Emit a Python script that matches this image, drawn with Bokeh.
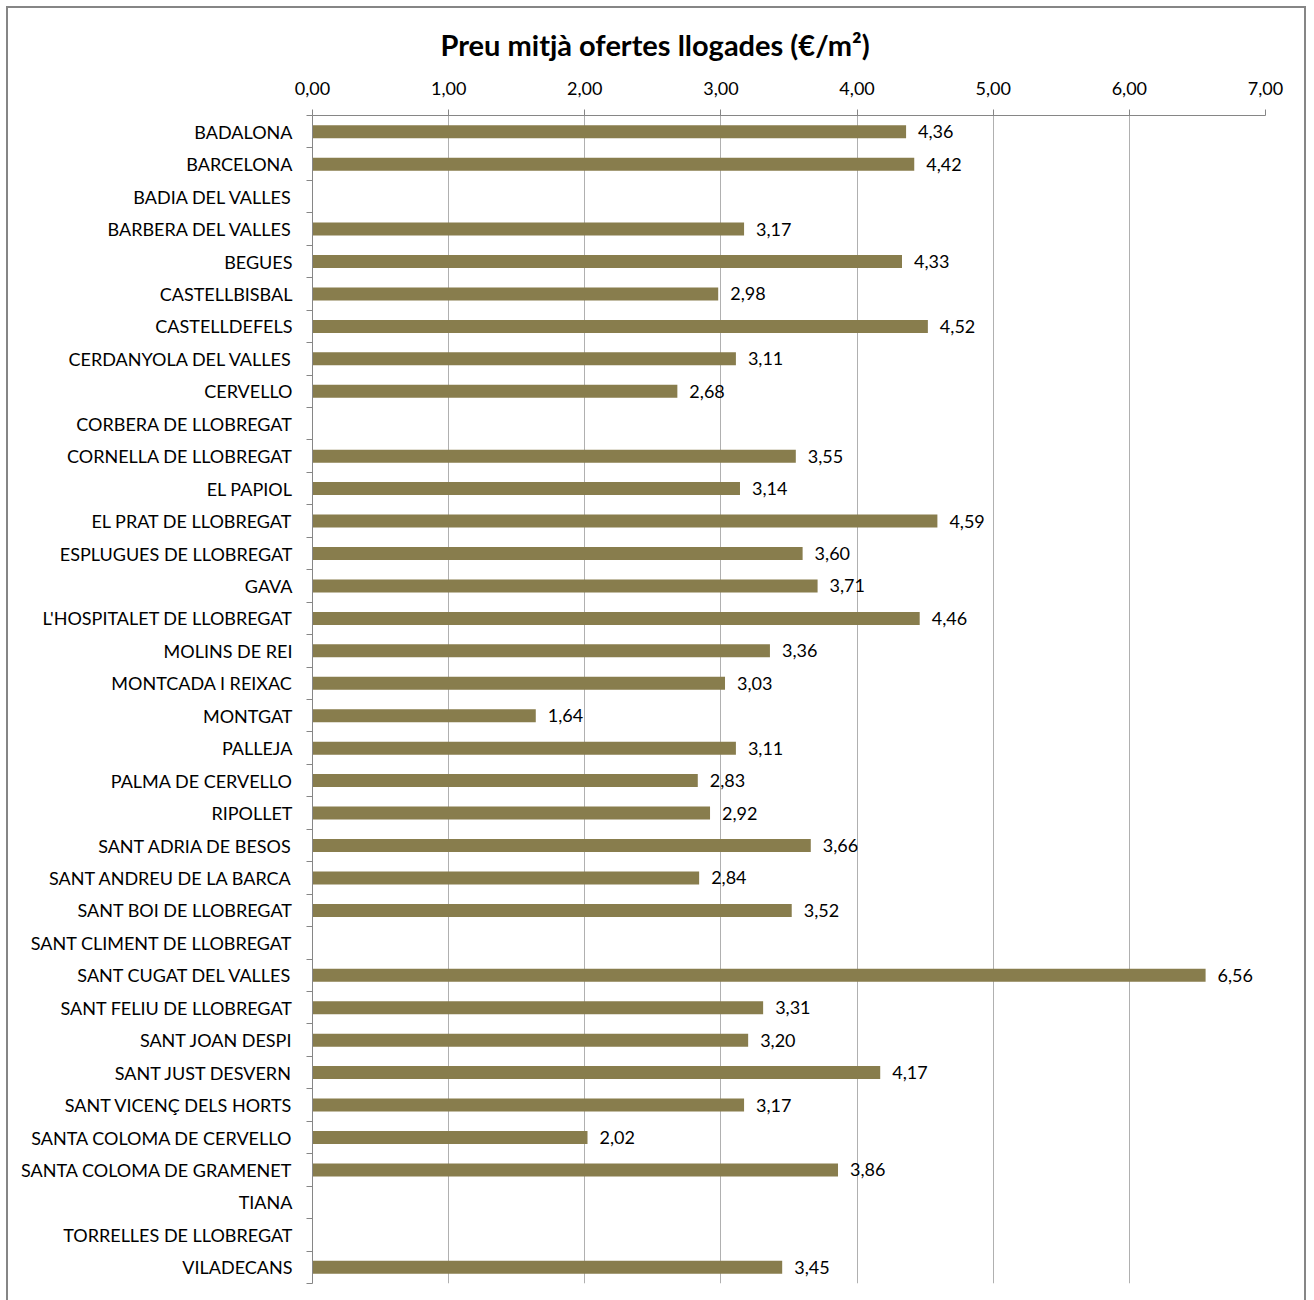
from bokeh.plotting import figure
from bokeh.models import Range1d, FixedTicker, LinearAxis, ColumnDataSource, Grid
from bokeh.core.properties import value
from bokeh.embed import file_html
from bokeh.resources import INLINE

municipis = ["BADALONA", "BARCELONA", "BADIA DEL VALLES", "BARBERA DEL VALLES", "BEGUES",
             "CASTELLBISBAL", "CASTELLDEFELS", "CERDANYOLA DEL VALLES", "CERVELLO",
             "CORBERA DE LLOBREGAT", "CORNELLA DE LLOBREGAT", "EL PAPIOL", "EL PRAT DE LLOBREGAT",
             "ESPLUGUES DE LLOBREGAT", "GAVA", "L'HOSPITALET DE LLOBREGAT", "MOLINS DE REI",
             "MONTCADA I REIXAC", "MONTGAT", "PALLEJA", "PALMA DE CERVELLO", "RIPOLLET",
             "SANT ADRIA DE BESOS", "SANT ANDREU DE LA BARCA", "SANT BOI DE LLOBREGAT",
             "SANT CLIMENT DE LLOBREGAT", "SANT CUGAT DEL VALLES", "SANT FELIU DE LLOBREGAT",
             "SANT JOAN DESPI", "SANT JUST DESVERN", "SANT VICENÇ DELS HORTS",
             "SANTA COLOMA DE CERVELLO", "SANTA COLOMA DE GRAMENET", "TIANA",
             "TORRELLES DE LLOBREGAT", "VILADECANS"]
preus = [4.36, 4.42, None, 3.17, 4.33, 2.98, 4.52, 3.11, 2.68, None, 3.55, 3.14, 4.59,
         3.60, 3.71, 4.46, 3.36, 3.03, 1.64, 3.11, 2.83, 2.92, 3.66, 2.84, 3.52, None,
         6.56, 3.31, 3.20, 4.17, 3.17, 2.02, 3.86, None, None, 3.45]
x_ticks = [0, 1, 2, 3, 4, 5, 6, 7]
x_tick_labels = ["0,00", "1,00", "2,00", "3,00", "4,00", "5,00", "6,00", "7,00"]

FONT = "Lato"
n = len(municipis)
idx = [i for i, v in enumerate(preus) if v is not None]
src = ColumnDataSource(dict(
    y=idx,
    v=[preus[i] for i in idx],
    lab=[("%.2f" % preus[i]).replace(".", ",") for i in idx],
))

p = figure(frame_width=953, frame_height=1168,
           x_range=Range1d(0, 7), y_range=Range1d(n - 0.5, -0.5),
           output_backend="svg", toolbar_location=None,
           x_axis_location=None, y_axis_location=None,
           min_border_left=304, min_border_right=39, min_border_top=107, min_border_bottom=25,
           styles={"border": "2px solid #868686", "margin": "6px 0 0 6px"})
p.outline_line_color = None
p.background_fill_color = "white"
p.border_fill_color = "white"

p.title.text = "Preu mitjà ofertes llogades (€/m²)"
p.title.align = "left"
p.title.vertical_align = "top"
p.title.offset = 128
p.title.standoff = 30
p.title.text_font = FONT
p.title.text_font_size = "29px"
p.title.text_font_style = "bold"
p.title.text_color = "black"

xax = LinearAxis(ticker=FixedTicker(ticks=x_ticks))
xax.major_label_overrides = {t: s for t, s in zip(x_ticks, x_tick_labels)}
xax.major_label_text_font = FONT
xax.major_label_text_font_size = "18px"
xax.major_label_text_color = "black"
xax.axis_line_color = "#868686"
xax.major_tick_line_color = "#868686"
xax.major_tick_out = 6
xax.major_tick_in = 0
xax.minor_tick_line_color = None
xax.major_label_standoff = 15
p.add_layout(xax, "above")

yax = LinearAxis(ticker=FixedTicker(ticks=list(range(n)),
                                    minor_ticks=[i - 0.5 for i in range(n + 1)]))
yax.major_label_overrides = {i: m for i, m in enumerate(municipis)}
yax.major_label_text_font = FONT
yax.major_label_text_font_size = "18px"
yax.major_label_text_color = "black"
yax.axis_line_color = "#868686"
yax.major_tick_line_color = None
yax.minor_tick_line_color = "#868686"
yax.minor_tick_out = 6
yax.minor_tick_in = 0
yax.major_label_standoff = 14
p.add_layout(yax, "left")

p.xgrid.visible = False
p.ygrid.visible = False
g = Grid(dimension=0, ticker=FixedTicker(ticks=x_ticks[1:]))
g.grid_line_color = "#b0b0b0"
p.add_layout(g)

p.hbar(y="y", left=0, right="v", height=0.4, source=src,
       fill_color="#887D4D", line_color=None)
p.text(x="v", y="y", text="lab", source=src, x_offset=12,
       text_baseline="middle", text_align="left",
       text_font=value(FONT), text_font_size="18px", text_color="black")

open("out.html", "w").write(file_html(p, INLINE))
